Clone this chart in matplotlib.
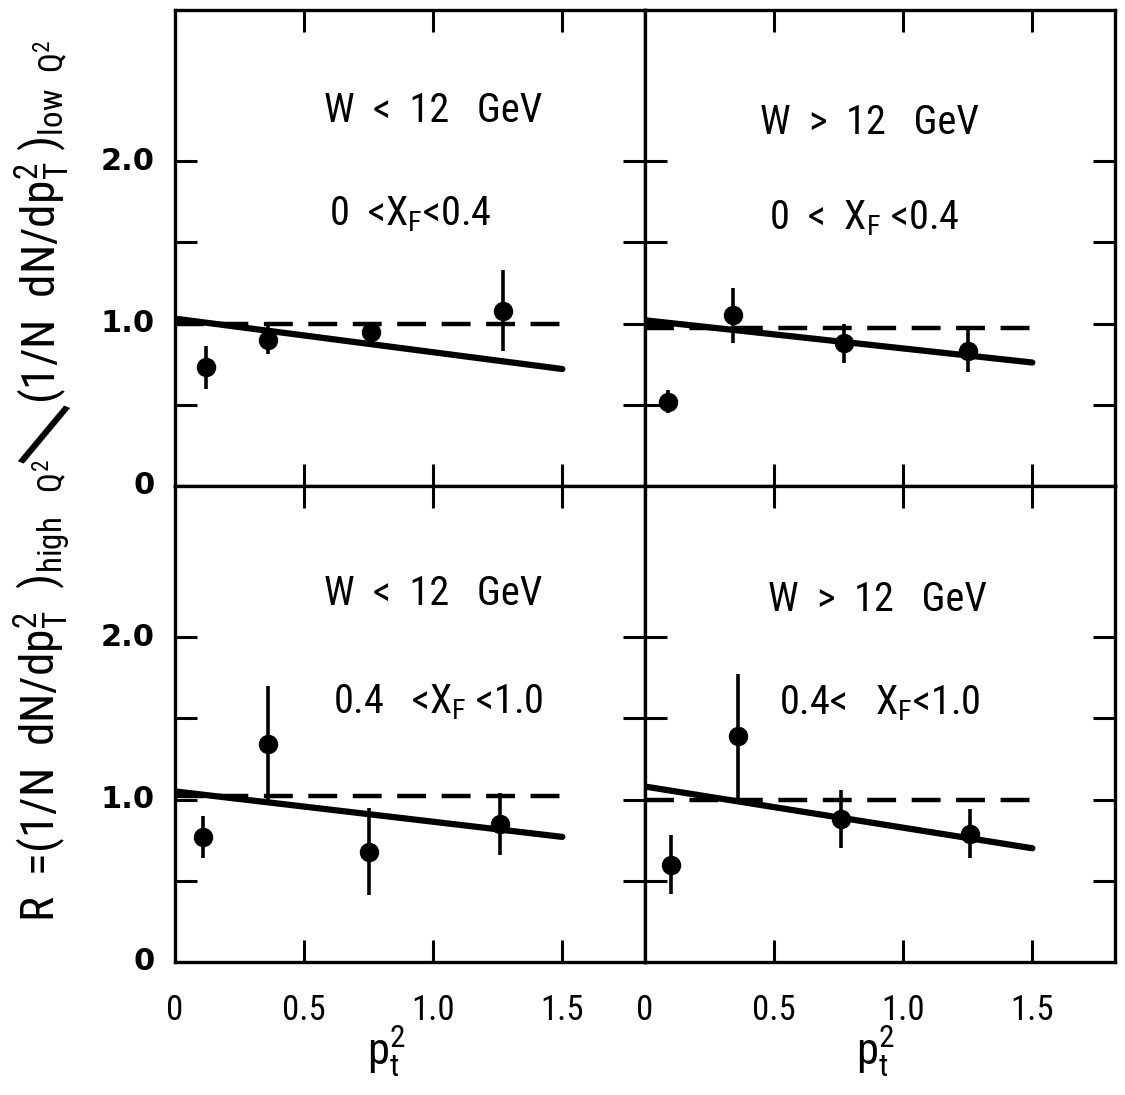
import matplotlib
matplotlib.use("Agg")
import matplotlib.pyplot as plt
from matplotlib import font_manager

names = {f.name for f in font_manager.fontManager.ttflist}
cands = ["Liberation Sans Narrow", "DejaVu Sans Condensed", "Roboto Condensed",
         "Open Sans Condensed"]
NARROW = next((c for c in cands if c in names), "DejaVu Sans")

plt.rcParams['font.family'] = [NARROW, 'DejaVu Sans']
plt.rcParams['font.stretch'] = 'condensed'
plt.rcParams['mathtext.fontset'] = 'custom'
plt.rcParams['mathtext.rm'] = NARROW
plt.rcParams['mathtext.it'] = NARROW
plt.rcParams['mathtext.bf'] = NARROW + ':bold'

# ---------------- data ----------------
titles_w = ["W  <  12   GeV", "W  >  12   GeV", "W  <  12   GeV", "W  >  12   GeV"]
titles_xf = [r"0  <$\mathrm{X_F}$<0.4", r"0  <  $\mathrm{X_F}$ <0.4",
             r"0.4   <$\mathrm{X_F}$ <1.0", r"0.4<   $\mathrm{X_F}$<1.0"]

tl_x = [0.12, 0.36, 0.76, 1.27]
tl_y = [0.73, 0.90, 0.95, 1.08]
tl_err = [0.13, 0.09, 0.05, 0.25]

tr_x = [0.09, 0.34, 0.77, 1.25]
tr_y = [0.52, 1.05, 0.88, 0.83]
tr_err = [0.07, 0.17, 0.12, 0.13]

bl_x = [0.11, 0.36, 0.75, 1.26]
bl_y = [0.77, 1.34, 0.68, 0.85]
bl_err = [0.13, 0.36, 0.27, 0.19]

br_x = [0.10, 0.36, 0.76, 1.26]
br_y = [0.60, 1.39, 0.88, 0.79]
br_err = [0.18, 0.38, 0.18, 0.15]

# solid fit line: value at p_t^2 = 0 and 1.5
fit_x = [0.0, 1.5]
tl_fit = [1.03, 0.72]
tr_fit = [1.02, 0.76]
bl_fit = [1.05, 0.77]
br_fit = [1.08, 0.70]

# dashed reference level
dash_x = [0.0, 1.52]
dash_levels = [1.0, 0.97, 1.02, 1.0]

x_ticks = [0.5, 1.0, 1.5]
x_ticklabels = ["0.5", "1.0", "1.5"]
y_ticks = [0.5, 1.0, 1.5, 2.0]
y_ticklabels = ["2.0", "1.0", "0"]
y_labelvals = [2.0, 1.0, 0.0]

panels = [
    (tl_x, tl_y, tl_err, tl_fit),
    (tr_x, tr_y, tr_err, tr_fit),
    (bl_x, bl_y, bl_err, bl_fit),
    (br_x, br_y, br_err, br_fit),
]
text_pos_w = [(1.0, 2.31), (0.87, 2.24), (1.0, 2.27), (0.90, 2.23)]
text_pos_xf = [(0.91, 1.67), (0.85, 1.65), (1.02, 1.60), (0.91, 1.59)]

# ---------------- figure ----------------
W, H = 1125, 1095
fig = plt.figure(figsize=(W / 100, H / 100), dpi=100)
fig.patch.set_facecolor('white')

ax_left = 175 / W
ax_w = 470 / W
ax_h = 476 / H
lefts = [ax_left, ax_left + ax_w, ax_left, ax_left + ax_w]

axes = []
for i in range(4):
    ax = fig.add_axes([lefts[i], 1 - (486 if i < 2 else 962) / H, ax_w, ax_h])
    axes.append(ax)
    xs, ys, errs, fit = panels[i]
    ax.set_xlim(0, 1.82)
    ax.set_ylim(0, 2.93)
    ax.plot(dash_x, [dash_levels[i]] * 2, color='k', lw=3.2, ls=(0, (6.5, 3.5)))
    ax.plot(fit_x, fit, color='k', lw=4.5, solid_capstyle='round')
    ax.errorbar(xs, ys, yerr=errs, fmt='o', color='k', ms=13,
                elinewidth=2.6, capsize=0)
    ax.text(*text_pos_w[i], titles_w[i], fontsize=29, ha='center', va='center')
    ax.text(*text_pos_xf[i], titles_xf[i], fontsize=29, ha='center', va='center')

    for s in ax.spines.values():
        s.set_linewidth(2.4)
    ax.set_xticks(x_ticks)
    ax.set_yticks(y_ticks)
    ax.tick_params(direction='in', length=16, width=2.2,
                   top=True, right=True, bottom=True, left=True,
                   labelbottom=False, labelleft=False)

# bottom x tick labels and x labels
for i in (2, 3):
    ax = axes[i]
    for v, lab in zip([0.0] + x_ticks, ["0"] + x_ticklabels):
        ax.text(v, -0.2, lab, fontsize=25, ha='center', va='top',
                clip_on=False)
    ax.text(0.82 if i == 2 else 0.89, -0.38, r"$\mathrm{p_t^2}$", fontsize=32,
            ha='center', va='top', clip_on=False)

# left y tick labels
for i in (0, 2):
    ax = axes[i]
    for v, lab in zip(y_labelvals, y_ticklabels):
        ax.text(-0.08, v, lab, fontsize=22, fontweight='bold',
                family='DejaVu Sans', fontstretch='normal',
                ha='right', va='center', clip_on=False)

# y axis label (three parts: numerator, big slash, denominator)
lx = 42 / W
fig.text(lx, 1 - 922 / H,
         r"R  =(1/N  dN/dp$\mathrm{_T^2}$  )$\mathrm{_{high\ \ \ Q^2}}$",
         rotation=90, fontsize=34, ha='center', va='bottom')
fig.text(42 / W, 1 - 440 / H, "/", rotation=-22, fontsize=64,
         ha='center', va='center')
fig.text(lx, 1 - 404 / H,
         r"(1/N  dN/dp$\mathrm{_T^2}$ )$\mathrm{_{low\ \ Q^2}}$",
         rotation=90, fontsize=34, ha='center', va='bottom')

fig.savefig("out.png", dpi=100, facecolor='white')
